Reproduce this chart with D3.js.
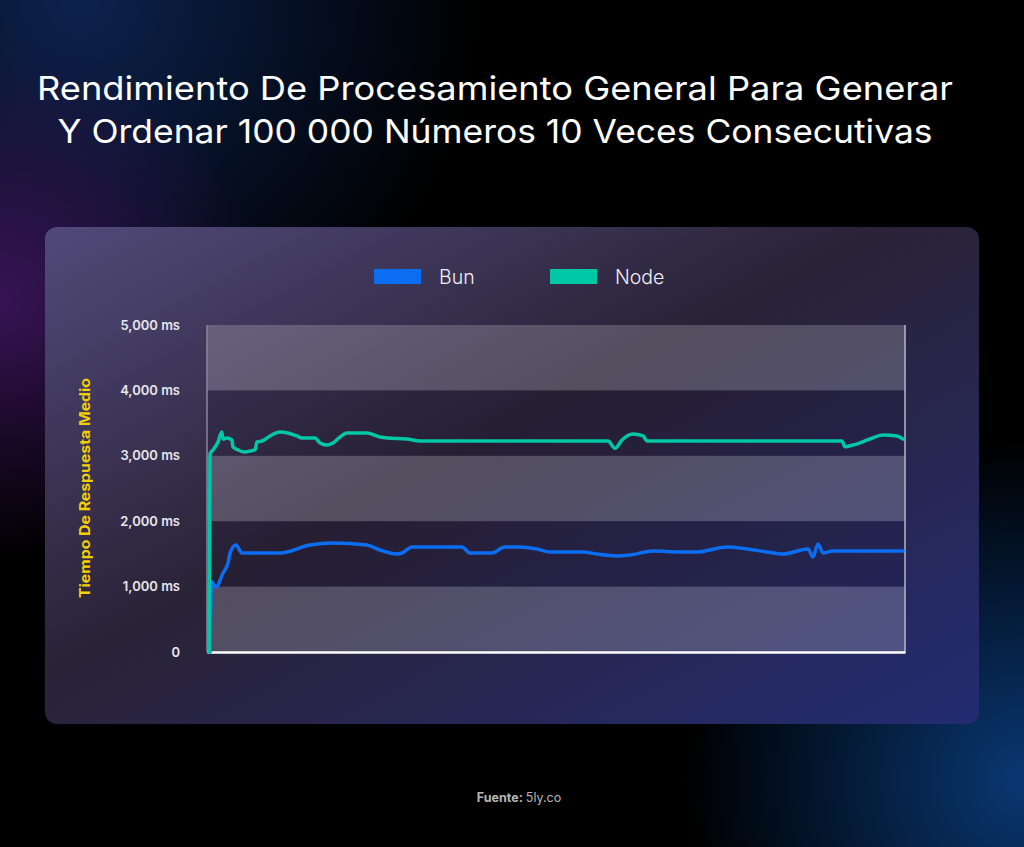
<!DOCTYPE html>
<html><head><meta charset="utf-8">
<script src="https://cdn.jsdelivr.net/npm/d3@7"></script>
<style>html,body{margin:0;padding:0;background:#000;}svg{display:block;}</style>
</head><body>
<script>
// ---- data ----
const seriesNames = ["Bun", "Node"];
const seriesColors = ["#0b6ef2", "#00c8a6"];
const yTicks = [0, 1000, 2000, 3000, 4000, 5000];
const yTickLabels = ["0", "1,000 ms", "2,000 ms", "3,000 ms", "4,000 ms", "5,000 ms"];
const bunX = [0.43, 0.67, 1.29, 2.29, 3.01, 3.3, 4.15, 5.01, 10.46, 14.76, 18.05, 22.92, 24.79, 27.22, 27.94, 29.37, 36.53, 37.68, 40.83, 42.69, 44.84, 47.28, 49.14, 53.87, 55.87, 58.74, 60.6, 63.9, 67.77, 70.2, 74.5, 77.36, 80.23, 82.52, 86.1, 86.82, 87.54, 88.25, 89.68, 99.71];
const bunY = [0, 1075, 990, 1208, 1361, 1514, 1636, 1514, 1514, 1636, 1667, 1636, 1560, 1498, 1514, 1606, 1606, 1514, 1514, 1606, 1606, 1575, 1529, 1529, 1498, 1468, 1483, 1544, 1529, 1529, 1606, 1575, 1529, 1498, 1575, 1453, 1651, 1514, 1544, 1544];
const nodeX = [0.3, 0.43, 0.86, 1.58, 2.11, 2.29, 2.87, 3.58, 3.72, 4.44, 5.44, 6.16, 6.88, 7.16, 7.88, 9.03, 10.46, 11.6, 12.89, 13.61, 15.47, 16.19, 17.19, 18.05, 19.05, 20.06, 22.92, 24.79, 25.79, 28.65, 30.52, 57.45, 58.45, 59.46, 61.03, 62.46, 63.04, 90.97, 91.4, 92.55, 94.99, 96.85, 98.85, 99.71];
const nodeY = [0, 3030, 3089, 3211, 3364, 3257, 3272, 3241, 3135, 3089, 3058, 3073, 3089, 3211, 3226, 3303, 3364, 3349, 3303, 3272, 3272, 3196, 3165, 3196, 3287, 3349, 3349, 3287, 3272, 3257, 3226, 3226, 3114, 3241, 3333, 3303, 3226, 3226, 3139, 3165, 3257, 3318, 3303, 3257];
const titleLines = ["Rendimiento De Procesamiento General Para Generar", "Y Ordenar 100 000 Números 10 Veces Consecutivas"];
const yAxisTitle = "Tiempo De Respuesta Medio";

// ---- layout ----
const W = 1024, H = 847;
const FONT = "Inter, 'Noto Sans', sans-serif";
const svg = d3.select("body").append("svg").attr("width", W).attr("height", H);
const defs = svg.append("defs");

// background glows
svg.append("rect").attr("width", W).attr("height", H).attr("fill", "#000");
function glow(id, cx, cy, r, color, op) {
  const g = defs.append("radialGradient").attr("id", id).attr("gradientUnits", "userSpaceOnUse")
    .attr("cx", cx).attr("cy", cy).attr("r", r);
  g.append("stop").attr("offset", "0%").attr("stop-color", color).attr("stop-opacity", op);
  g.append("stop").attr("offset", "100%").attr("stop-color", color).attr("stop-opacity", 0);
  svg.append("rect").attr("width", W).attr("height", H).attr("fill", `url(#${id})`);
}
glow("g1", 80, 0, 400, "#0d2452", 0.95);
glow("g2", 0, 300, 260, "#3a1458", 0.95);
glow("g3", 1024, 780, 340, "#0a3a78", 0.95);

// card
const cg = defs.append("linearGradient").attr("id", "card").attr("x1", "0%").attr("y1", "0%").attr("x2", "100%").attr("y2", "100%");
cg.append("stop").attr("offset", "0%").attr("stop-color", "#514a7a");
cg.append("stop").attr("offset", "45%").attr("stop-color", "#2a2236");
cg.append("stop").attr("offset", "100%").attr("stop-color", "#232c72");
svg.append("rect").attr("x", 45).attr("y", 227).attr("width", 934).attr("height", 497).attr("rx", 12).attr("fill", "url(#card)");

// title
const titleW = [916, 875];
svg.append("g").selectAll("text").data(titleLines).join("text")
  .attr("x", 495).attr("y", (d, i) => 100 + i * 43)
  .attr("text-anchor", "middle").attr("fill", "#fff")
  .attr("font-family", FONT).attr("font-size", 33).attr("font-weight", 400)
  .attr("textLength", (d, i) => titleW[i]).attr("lengthAdjust", "spacingAndGlyphs")
  .text(d => d);

// scales
const x = d3.scaleLinear().domain([0, 100]).range([207, 905]);
const y = d3.scaleLinear().domain([0, 5000]).range([652, 325]);

// bands
const bands = d3.range(0, 5).map(i => ({ lo: i * 1000, hi: (i + 1) * 1000, light: i % 2 === 0 }));
svg.append("g").selectAll("rect").data(bands).join("rect")
  .attr("x", x(0)).attr("width", x(100) - x(0))
  .attr("y", d => y(d.hi)).attr("height", d => y(d.lo) - y(d.hi))
  .attr("fill", d => d.light ? "rgba(255,255,255,0.2)" : "rgba(20,15,35,0.15)");

// plot borders
svg.append("line").attr("x1", x(0)).attr("x2", x(0)).attr("y1", y(5000)).attr("y2", y(0)).attr("stroke", "#8a8799").attr("stroke-width", 1.5);
svg.append("line").attr("x1", x(100)).attr("x2", x(100)).attr("y1", y(5000)).attr("y2", y(0)).attr("stroke", "#b8b6c8").attr("stroke-width", 1.5);

// y axis
const yAxis = d3.axisLeft(y).tickValues(yTicks).tickFormat((d, i) => yTickLabels[i]).tickSize(0).tickPadding(27);
const ya = svg.append("g").attr("transform", `translate(${x(0)},0)`).call(yAxis);
ya.select(".domain").remove();
ya.selectAll("text").attr("fill", "#e8e6ee").attr("font-family", FONT).attr("font-size", 13).attr("font-weight", 600);

// x axis line
const xAxis = d3.axisBottom(x).tickValues([]).tickSizeOuter(0);
const xa = svg.append("g").attr("transform", `translate(0,${y(0)})`).call(xAxis);
xa.select(".domain").attr("stroke", "#ffffff").attr("stroke-width", 2.5);

// y axis title
svg.append("text").attr("transform", "translate(90,488) rotate(-90)")
  .attr("text-anchor", "middle").attr("fill", "#f2d000")
  .attr("font-family", FONT).attr("font-size", 14).attr("font-weight", 700)
  .attr("textLength", 220).attr("lengthAdjust", "spacingAndGlyphs")
  .text(yAxisTitle);

// lines
const line = d3.line().x(d => x(d[0])).y(d => y(d[1])).curve(d3.curveMonotoneX);
const series = [d3.zip(bunX, bunY), d3.zip(nodeX, nodeY)];
svg.append("g").selectAll("path").data(series).join("path")
  .attr("d", line).attr("fill", "none")
  .attr("stroke", (d, i) => seriesColors[i]).attr("stroke-width", 3.5)
  .attr("stroke-linejoin", "round").attr("stroke-linecap", "round");

// legend
const legX = [374, 550];
const leg = svg.append("g").selectAll("g").data(seriesNames).join("g")
  .attr("transform", (d, i) => `translate(${legX[i]},269)`);
leg.append("rect").attr("width", 47).attr("height", 15).attr("fill", (d, i) => seriesColors[i]);
leg.append("text").attr("x", 65).attr("y", 15).attr("fill", "#f0eef5")
  .attr("font-family", FONT).attr("font-size", 19.5).attr("font-weight", 300).text(d => d);

// source
const src = svg.append("text").attr("x", 519).attr("y", 802).attr("text-anchor", "middle")
  .attr("fill", "#b5b5b5").attr("font-family", FONT).attr("font-size", 12.5);
src.append("tspan").attr("font-weight", 700).text("Fuente: ");
src.append("tspan").text("5ly.co");
</script>
</body></html>
